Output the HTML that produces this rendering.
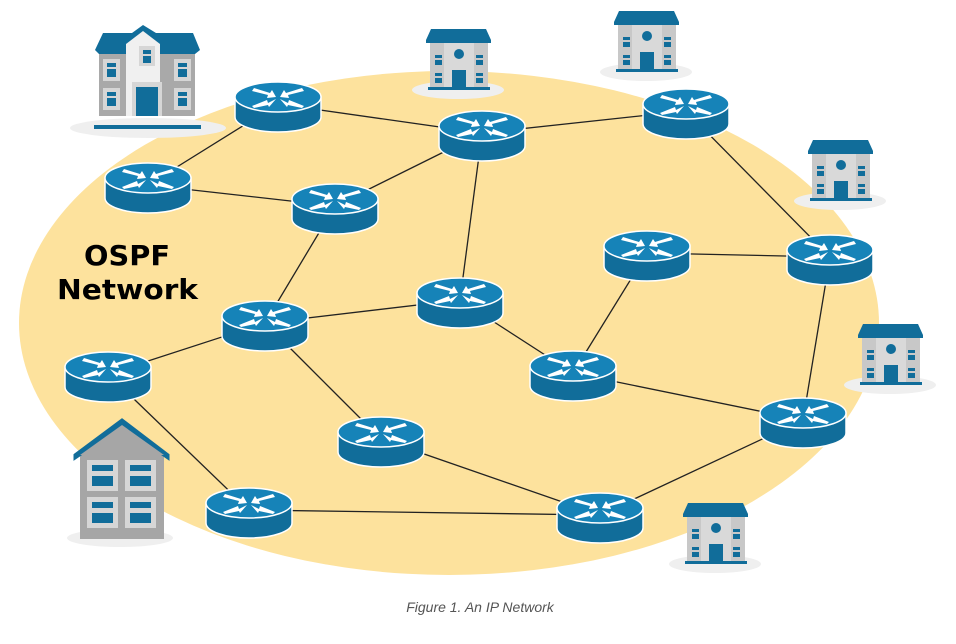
<!DOCTYPE html>
<html><head><meta charset="utf-8"><style>
html,body{margin:0;padding:0;background:#fff;}
svg{display:block;}
</style></head><body>
<svg width="956" height="644" viewBox="0 0 956 644" xmlns="http://www.w3.org/2000/svg">
<defs>
  <g id="rt">
    <path d="M-43,0 L-43,20 A43,15 0 0,0 43,20 L43,0 Z" fill="#116d9a" stroke="#fff" stroke-width="1.5"/>
    <ellipse cx="0" cy="0" rx="43" ry="15" fill="#1683b8" stroke="#fff" stroke-width="1.5"/>
    <g fill="#fff">
      <polygon points="-24,-9 -8,-4 -6,-7 -2,0 -11,1 -10,-2 -26,-6"/>
      <polygon points="24,-9 8,-4 6,-7 2,0 11,1 10,-2 26,-6" transform="translate(0,0)"/>
      <polygon points="-2,2 -10,6 -11,3 -26,9 -24,11 -10,8 -9,10"/>
      <polygon points="2,2 10,6 11,3 26,9 24,11 10,8 9,10"/>
    </g>
  </g>
  <g id="sb">
    <ellipse cx="32" cy="64" rx="46" ry="9" fill="#efefef"/>
    <rect x="4" y="16" width="58" height="46" fill="#c8c8c8"/>
    <rect x="18" y="16" width="30" height="46" fill="#d9d9d9"/>
    <polygon points="0,14 5,3 60,3 65,14 65,17 0,17" fill="#116d9a"/>
    <circle cx="33" cy="28" r="5" fill="#116d9a"/>
    <rect x="26" y="44" width="14" height="18" fill="#116d9a"/>
    <rect x="9" y="29" width="7" height="3" fill="#116d9a"/><rect x="9" y="34" width="7" height="5" fill="#116d9a"/>
    <rect x="50" y="29" width="7" height="3" fill="#116d9a"/><rect x="50" y="34" width="7" height="5" fill="#116d9a"/>
    <rect x="9" y="47" width="7" height="3" fill="#116d9a"/><rect x="9" y="52" width="7" height="5" fill="#116d9a"/>
    <rect x="50" y="47" width="7" height="3" fill="#116d9a"/><rect x="50" y="52" width="7" height="5" fill="#116d9a"/>
    <rect x="2" y="61" width="62" height="3" fill="#116d9a"/>
  </g>
</defs>
<ellipse cx="449" cy="323" rx="430" ry="252" fill="#fde29d"/>
<g stroke="#222" stroke-width="1.3">
  <line x1="148" y1="185" x2="278" y2="104"/>
  <line x1="278" y1="104" x2="482" y2="133"/>
  <line x1="482" y1="133" x2="686" y2="111"/>
  <line x1="148" y1="185" x2="335" y2="206"/>
  <line x1="335" y1="206" x2="482" y2="133"/>
  <line x1="482" y1="133" x2="460" y2="300"/>
  <line x1="335" y1="206" x2="265" y2="323"/>
  <line x1="265" y1="323" x2="460" y2="300"/>
  <line x1="265" y1="323" x2="108" y2="374"/>
  <line x1="265" y1="323" x2="381" y2="439"/>
  <line x1="108" y1="374" x2="249" y2="510"/>
  <line x1="460" y1="300" x2="573" y2="373"/>
  <line x1="573" y1="373" x2="647" y2="253"/>
  <line x1="647" y1="253" x2="830" y2="257"/>
  <line x1="686" y1="111" x2="830" y2="257"/>
  <line x1="830" y1="257" x2="803" y2="420"/>
  <line x1="573" y1="373" x2="803" y2="420"/>
  <line x1="381" y1="439" x2="600" y2="515"/>
  <line x1="249" y1="510" x2="600" y2="515"/>
  <line x1="600" y1="515" x2="803" y2="420"/>
</g>
<!-- big left building -->
<ellipse cx="148" cy="128" rx="78" ry="10" fill="#efefef"/>
<rect x="99" y="50" width="96" height="66" fill="#a9a9a9"/>
<polygon points="95,50 103,33 132,33 143,25 156,33 193,33 200,50 195,54 99,54" fill="#116d9a"/>
<polygon points="126,44 143,31 160,44 160,116 126,116" fill="#f0f0f0"/>
<rect x="139" y="46" width="16" height="20" fill="#d6d6d6"/><rect x="143" y="50" width="8" height="4" fill="#116d9a"/><rect x="143" y="56" width="8" height="7" fill="#116d9a"/>
<rect x="132" y="82" width="30" height="34" fill="#d6d6d6"/><rect x="136" y="87" width="22" height="29" fill="#116d9a"/>
<g fill="#d6d6d6"><rect x="103" y="59" width="17" height="22"/><rect x="174" y="59" width="17" height="22"/><rect x="103" y="88" width="17" height="22"/><rect x="174" y="88" width="17" height="22"/></g>
<g fill="#116d9a"><rect x="107" y="63" width="9" height="4"/><rect x="107" y="69" width="9" height="8"/><rect x="178" y="63" width="9" height="4"/><rect x="178" y="69" width="9" height="8"/><rect x="107" y="92" width="9" height="4"/><rect x="107" y="98" width="9" height="8"/><rect x="178" y="92" width="9" height="4"/><rect x="178" y="98" width="9" height="8"/></g>
<rect x="94" y="125" width="107" height="4" fill="#116d9a"/>
<!-- gray house -->
<ellipse cx="120" cy="538" rx="53" ry="9" fill="#efefef"/>
<rect x="80" y="455" width="84" height="84" fill="#a6a6a6"/>
<polygon points="75,455 122,420 168,455 168,458 122,426 75,458" fill="#116d9a" stroke="#116d9a" stroke-width="3"/>
<polygon points="80,455 122,425 164,455" fill="#a6a6a6"/>
<g fill="#d6d6d6"><rect x="87" y="460" width="31" height="31"/><rect x="125" y="460" width="31" height="31"/><rect x="87" y="497" width="31" height="31"/><rect x="125" y="497" width="31" height="31"/></g>
<g fill="#116d9a"><rect x="92" y="465" width="21" height="6"/><rect x="92" y="476" width="21" height="10"/><rect x="130" y="465" width="21" height="6"/><rect x="130" y="476" width="21" height="10"/><rect x="92" y="502" width="21" height="6"/><rect x="92" y="513" width="21" height="10"/><rect x="130" y="502" width="21" height="6"/><rect x="130" y="513" width="21" height="10"/></g>
<!-- small buildings -->
<use href="#sb" x="426" y="26"/>
<use href="#sb" x="614" y="8"/>
<use href="#sb" x="808" y="137"/>
<use href="#sb" x="858" y="321"/>
<use href="#sb" x="683" y="500"/>
<!-- routers -->
<use href="#rt" x="278" y="97"/>
<use href="#rt" x="482" y="126"/>
<use href="#rt" x="686" y="104"/>
<use href="#rt" x="148" y="178"/>
<use href="#rt" x="335" y="199"/>
<use href="#rt" x="647" y="246"/>
<use href="#rt" x="830" y="250"/>
<use href="#rt" x="460" y="293"/>
<use href="#rt" x="265" y="316"/>
<use href="#rt" x="108" y="367"/>
<use href="#rt" x="573" y="366"/>
<use href="#rt" x="803" y="413"/>
<use href="#rt" x="381" y="432"/>
<use href="#rt" x="249" y="503"/>
<use href="#rt" x="600" y="508"/>
<g font-family="DejaVu Sans, Liberation Sans, sans-serif" font-weight="bold" font-size="28" fill="#000">
<text x="84" y="265" textLength="86" lengthAdjust="spacingAndGlyphs">OSPF</text>
<text x="57" y="299" textLength="141" lengthAdjust="spacingAndGlyphs">Network</text>
</g>
<text x="480" y="612" text-anchor="middle" font-family="Liberation Sans, sans-serif" font-style="italic" font-size="14" fill="#555">Figure 1. An IP Network</text>
</svg>
</body></html>
